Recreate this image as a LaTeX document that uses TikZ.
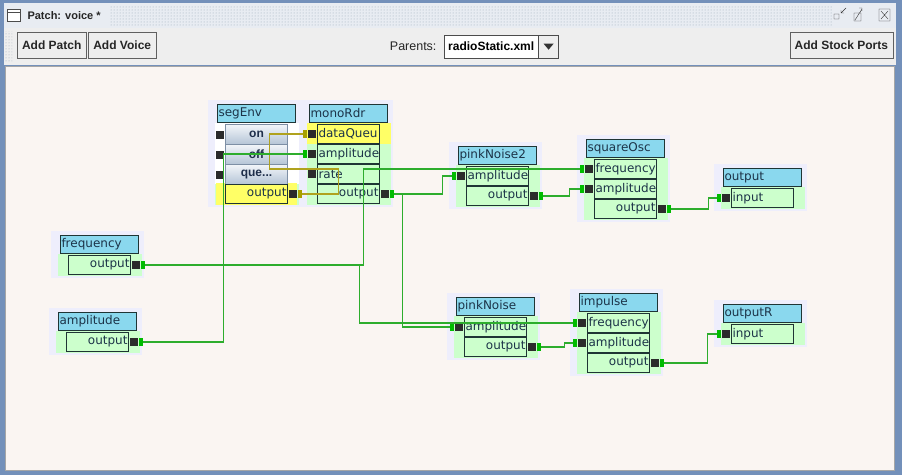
\documentclass[tikz,border=0pt]{standalone}
\usepackage{fontspec}
\setmainfont{DejaVu Sans}
\newfontfamily\guifont{Liberation Sans}
\usepackage{tikz}
\usetikzlibrary{positioning,%
  patterns}
\hyphenpenalty=10000

\definecolor{frameblue}{HTML}{7390BA}
\definecolor{barbg}{HTML}{E8ECF2}
\definecolor{dotgray}{HTML}{9AA8B8}
\definecolor{toolbg}{HTML}{EEEEEE}
\definecolor{canvasbg}{HTML}{FAF5F2}
\definecolor{panelbg}{HTML}{EEEEFC}
\definecolor{rowgreen}{HTML}{CCFFCC}
\definecolor{titlecyan}{HTML}{8AD8EE}
\definecolor{boxline}{HTML}{1F3535}
\definecolor{labeltxt}{HTML}{1C3348}
\definecolor{jackdark}{HTML}{2B2B2B}
\definecolor{cablegreen}{HTML}{2DAD2D}
\definecolor{tipgreen}{HTML}{00BB00}
\definecolor{cableolive}{HTML}{B0A21E}
\definecolor{tipolive}{HTML}{A8A000}
\definecolor{portyellow}{HTML}{FFFF66}
\definecolor{knobtop}{HTML}{F2F5F9}
\definecolor{knobbot}{HTML}{B4C4D6}
\definecolor{knobline}{HTML}{7D8FA5}
\definecolor{knobtxt}{HTML}{1E2E4A}

\begin{document}
\begin{tikzpicture}
                    [x=1pt, y=-1pt,
                    mod/.style={draw=boxline, line width=1pt,
                        fill=titlecyan, anchor=north west,
                        minimum height=18pt, text width=76pt,
                        inner xsep=1pt, inner ysep=0pt, align=left,
                        text=labeltxt, font=\fontsize{12}{14}\selectfont},
                    inport/.style={mod, fill=rowgreen,
                        minimum height=19pt, text width=60pt},
                    outport/.style={inport, align=right},
                    knob/.style={draw=knobline, line width=1pt,
                        top color=knobtop, bottom color=knobbot,
                        anchor=north west, minimum width=62pt,
                        minimum height=20pt, inner sep=0pt, text=knobtxt,
                        font=\guifont\bfseries\fontsize{12}{14}\selectfont},
                    jack/.style={fill=jackdark, minimum width=8pt,
                        minimum height=8pt, inner sep=0pt},
                    gtip/.style={jack, fill=tipgreen, minimum width=4pt},
                    otip/.style={gtip, fill=tipolive},
                    cable/.style={draw=cablegreen, line width=1.2pt},
                    ocable/.style={draw=cableolive, line width=1.2pt},
                    uibtn/.style={draw=gray!75!black, fill=toolbg,
                        anchor=north west, minimum height=26pt,
                        inner xsep=3pt, text=black!85,
                        font=\guifont\bfseries\fontsize{12}{14}\selectfont}]

                    \useasboundingbox (0,0) rectangle (902,475);

                    % window frame and title bar
                    \fill[frameblue] (0,0) rectangle (902,475);
                    \fill[barbg] (4,3) rectangle (896,28);
                    \fill[pattern=dots, pattern color=dotgray]
                        (110,6) rectangle (832,25);
                    \draw[black!70, fill=white] (7,9) rectangle (20,21);
                    \draw[black!70] (7,12) -- (20,12);
                    \node[anchor=west, text=black!85,
                        font=\guifont\bfseries\fontsize{11}{13}\selectfont]
                        (caption) at (24,16) {Patch: voice *};
                    \draw[black!80] (834,14) rectangle (839,19)
                        (846,8) -- (841,13) (841,10) -- (841,13) -- (844,13);
                    \draw[black!80] (854,13) rectangle (861,21)
                        (855,20) -- (862,9) (859,8) -- (862,8) -- (862,11);
                    \draw[black!80] (879,9) rectangle (890,21)
                        (881,11) -- (888,19) (888,11) -- (881,19);

                    % tool bar
                    \fill[toolbg] (4,28) rectangle (896,65);
                    \fill[pattern=dots, pattern color=dotgray]
                        (5,31) rectangle (12,62);
                    \node[uibtn, minimum width=69pt] (addPatch)
                        at (17,32) {Add Patch};
                    \node[uibtn, minimum width=68pt] (addVoice)
                        at (88,32) {Add Voice};
                    \node[anchor=east, text=black!85,
                        font=\guifont\fontsize{12.5}{14}\selectfont]
                        (parentsLbl) at (440,46) {Parents:};
                    \node[draw=gray!60!black, fill=white, anchor=north west,
                        minimum width=94pt, minimum height=23pt, inner sep=0pt,
                        font=\guifont\bfseries\fontsize{12}{14}\selectfont]
                        (parents) at (444,35) {radioStatic.xml};
                    \node[draw=gray!60!black, fill=toolbg, right=0pt of parents,
                        minimum width=20pt, minimum height=23pt, inner sep=0pt]
                        (drop) {};
                    \fill[black!80] (drop.center) ++(-5,-3) -- ++(10,0)
                        -- ++(-5,6) -- cycle;
                    \node[uibtn, anchor=north east, minimum width=103pt]
                        (addStock) at (893,32) {Add Stock Ports};

                    % patch canvas
                    \filldraw[fill=canvasbg, draw=gray!70] (5,66) rectangle (894,470);
                    \foreach \L/\T/\n in {225/104/4, 317/104/4, 466/146/2,
                        594/139/3, 731/168/1, 68/235/1, 66/312/1, 464/297/2,
                        587/293/3, 731/304/1}
                    {
                        \fill[panelbg] (\L-17,\T-4) rectangle (\L+76,\T+23+20*\n);
                        \fill[rowgreen] (\L-10,\T+19) rectangle (\L+74,\T+21+20*\n);
                    }
                    \fill[white] (215,123) rectangle (299,184);
                    \fill[portyellow] (216,183) rectangle (297,205);
                    \fill[portyellow] (307,123) rectangle (391,144);

                    % modules
                    \node[mod] (segEnv) at (217,104) {segEnv};
                    \node[knob] (segOn) at (225,124) {on};
                    \node[knob] (segOff) at (225,144) {off};
                    \node[knob] (segQue) at (225,164) {que...};
                    \node[outport, fill=portyellow] (segOut)
                        at (225,184) {output};

                    \node[mod] (monoRdr) at (309,104) {monoRdr};
                    \node[inport, fill=portyellow] (monoDq)
                        at (317,124) {dataQueu};
                    \node[inport] (monoAmp) at (317,144) {amplitude};
                    \node[inport] (monoRate) at (317,164) {rate};
                    \node[outport] (monoOut) at (317,184) {output};

                    \node[mod] (pinkNoise2) at (458,146) {pinkNoise2};
                    \node[inport] (pn2Amp) at (466,166) {amplitude};
                    \node[outport] (pn2Out) at (466,186) {output};

                    \node[mod] (squareOsc) at (586,139) {squareOsc};
                    \node[inport] (sqFreq) at (594,159) {frequency};
                    \node[inport] (sqAmp) at (594,179) {amplitude};
                    \node[outport] (sqOut) at (594,199) {output};

                    \node[mod] (output) at (723,168) {output};
                    \node[inport] (outIn) at (731,188) {input};

                    \node[mod] (frequency) at (60,235) {frequency};
                    \node[outport] (freqOut) at (68,255) {output};

                    \node[mod] (amplitude) at (58,312) {amplitude};
                    \node[outport] (ampOut) at (66,332) {output};

                    \node[mod] (pinkNoise) at (456,297) {pinkNoise};
                    \node[inport] (pnAmp) at (464,317) {amplitude};
                    \node[outport] (pnOut) at (464,337) {output};

                    \node[mod] (impulse) at (579,293) {impulse};
                    \node[inport] (imFreq) at (587,313) {frequency};
                    \node[inport] (imAmp) at (587,333) {amplitude};
                    \node[outport] (imOut) at (587,353) {output};

                    \node[mod] (outputR) at (723,304) {outputR};
                    \node[inport] (orIn) at (731,324) {input};

                    % jacks
                    \foreach \p in {segOn,segOff,segQue,monoDq,monoAmp,monoRate,
                        pn2Amp,sqFreq,sqAmp,outIn,pnAmp,imFreq,imAmp,orIn}
                        \node[jack, left=1pt of \p] (\p-j) {};
                    \foreach \p in {segOut,monoOut,pn2Out,sqOut,freqOut,
                        ampOut,pnOut,imOut}
                        \node[jack, right=1pt of \p] (\p-j) {};
                    \foreach \p in {monoAmp,pn2Amp,sqFreq,sqAmp,outIn,pnAmp,
                        imFreq,imAmp,orIn}
                        \node[gtip, left=0pt of \p-j] (\p-t) {};
                    \foreach \p in {monoOut,pn2Out,sqOut,freqOut,ampOut,
                        pnOut,imOut}
                        \node[gtip, right=0pt of \p-j] (\p-t) {};
                    \node[otip, left=0pt of monoDq-j] (monoDq-t) {};
                    \node[otip, right=0pt of segOut-j] (segOut-t) {};

                    % cables
                    \draw[ocable] (segOut-t.east) -- ++(37,0) -- ++(0,-25)
                        -- ++(-69,0) |- (monoDq-t.west);
                    \draw[cable] (ampOut-t.east) -- ++(81,0) |- (monoAmp-t.west);
                    \draw[cable] (freqOut-t.east) -- ++(219,0) |- (sqFreq-t.west);
                    \draw[cable] (freqOut-t.east) -- ++(215,0) |- (imFreq-t.west);
                    \draw[cable] (monoOut-t.east) -- ++(49,0) |- (pn2Amp-t.west);
                    \draw[cable] (monoOut-t.east) -- ++(9,0) |- (pnAmp-t.west);
                    \draw[cable] (pn2Out-t.east) -- ++(27,0) |- (sqAmp-t.west);
                    \draw[cable] (sqOut-t.east) -- ++(38,0) |- (outIn-t.west);
                    \draw[cable] (pnOut-t.east) -- ++(24,0) |- (imAmp-t.west);
                    \draw[cable] (imOut-t.east) -- ++(44,0) |- (orIn-t.west);
                \end{tikzpicture}
\end{document}
